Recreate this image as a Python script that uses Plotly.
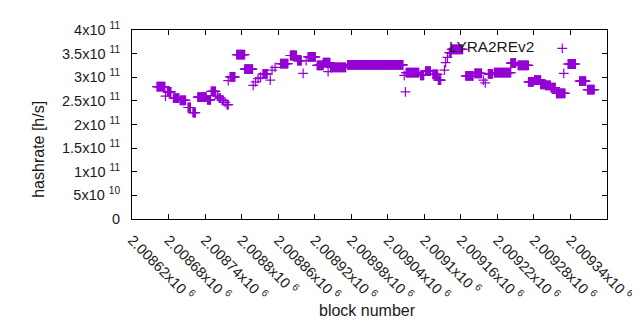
import plotly.graph_objects as go

# runs of constant hashrate: first block, last block, hashrate [h/s]
run_start = [2008661, 2008675, 2008678, 2008688, 2008699, 2008712, 2008720, 2008728, 2008744, 2008750,
             2008760, 2008763, 2008768, 2008773, 2008776, 2008778, 2008781, 2008792, 2008805, 2008819,
             2008823, 2008827, 2008831, 2008835, 2008847, 2008850, 2008855, 2008864, 2008880, 2008892,
             2008901, 2008906, 2008909, 2008924, 2008934, 2008942, 2008946, 2008974, 2009067, 2009069,
             2009070, 2009094, 2009102, 2009114, 2009123, 2009133, 2009135, 2009138, 2009141, 2009145,
             2009168, 2009183, 2009197, 2009200, 2009205, 2009215, 2009242, 2009254, 2009271, 2009281,
             2009291, 2009299, 2009308, 2009317, 2009329, 2009336, 2009355, 2009368]
run_end = [2008674, 2008675, 2008684, 2008697, 2008708, 2008716, 2008724, 2008742, 2008749, 2008757,
           2008761, 2008765, 2008770, 2008773, 2008778, 2008778, 2008789, 2008805, 2008818, 2008819,
           2008823, 2008827, 2008831, 2008842, 2008847, 2008850, 2008855, 2008876, 2008890, 2008898,
           2008901, 2008906, 2008921, 2008934, 2008945, 2008942, 2008971, 2009065, 2009067, 2009069,
           2009091, 2009099, 2009110, 2009122, 2009127, 2009133, 2009135, 2009138, 2009144, 2009163,
           2009180, 2009194, 2009197, 2009200, 2009212, 2009242, 2009250, 2009271, 2009279, 2009291,
           2009299, 2009307, 2009315, 2009331, 2009329, 2009348, 2009365, 2009379]
run_value = [2.80e11, 2.60e11, 2.69e11, 2.56e11, 2.51e11, 2.36e11, 2.25e11, 2.58e11, 2.52e11, 2.70e11,
             2.60e11, 2.56e11, 2.51e11, 2.47e11, 2.42e11, 2.93e11, 3.01e11, 3.48e11, 3.17e11, 2.83e11,
             2.90e11, 2.97e11, 3.00e11, 3.07e11, 2.94e11, 3.15e11, 3.21e11, 3.29e11, 3.46e11, 3.35e11,
             3.08e11, 3.35e11, 3.43e11, 3.25e11, 3.31e11, 3.12e11, 3.21e11, 3.26e11, 3.04e11, 2.69e11,
             3.10e11, 3.04e11, 3.13e11, 3.06e11, 2.94e11, 3.15e11, 3.31e11, 3.42e11, 3.52e11, 3.59e11,
             3.03e11, 3.08e11, 2.94e11, 2.88e11, 3.07e11, 3.10e11, 3.30e11, 3.25e11, 2.90e11, 2.94e11,
             2.85e11, 2.83e11, 2.78e11, 2.66e11, 3.08e11, 3.28e11, 2.92e11, 2.74e11]

x_tick_vals = [2008620 + 60 * i for i in range(14)]
x_tick_text = ["2.00862", "2.00868", "2.00874", "2.0088", "2.00886", "2.00892", "2.00898",
               "2.00904", "2.0091", "2.00916", "2.00922", "2.00928", "2.00934", "2.0094"]
y_tick_vals = [0, 0.5e11, 1e11, 1.5e11, 2e11, 2.5e11, 3e11, 3.5e11, 4e11]
y_tick_text = ["0", "5x10 <sup>10</sup>", "1x10 <sup>11</sup>", "1.5x10 <sup>11</sup>", "2x10 <sup>11</sup>",
               "2.5x10 <sup>11</sup>", "3x10 <sup>11</sup>", "3.5x10 <sup>11</sup>", "4x10 <sup>11</sup>"]

blocks, rates = [], []
for s, e, v in zip(run_start, run_end, run_value):
    for b in range(s, e + 1):
        blocks.append(b)
        rates.append(v)

FONT = "Liberation Sans, Arial, sans-serif"
TXT = "#1a1a1a"

fig = go.Figure()
fig.add_trace(go.Scatter(
    x=blocks, y=rates, mode="markers", name="",
    marker=dict(symbol="cross-thin", size=7, color="#9400D3",
                line=dict(color="#9400D3", width=1.2)),
    showlegend=True,
))

axis_common = dict(showgrid=False, zeroline=False, showline=True, linecolor="black", linewidth=1,
                   mirror="ticks", ticks="inside", ticklen=5, tickcolor="black", tickwidth=1)

fig.update_layout(
    width=640, height=330,
    margin=dict(l=124, r=31, t=19, b=119),
    paper_bgcolor="white", plot_bgcolor="white",
    font=dict(family=FONT, color=TXT, size=14.5),
    xaxis=dict(range=[2008620, 2009400], tickvals=x_tick_vals,
               ticktext=[t + "x10 <sup>6</sup>" for t in x_tick_text],
               tickangle=45, ticklabelstandoff=6, **axis_common),
    yaxis=dict(range=[0, 4e11], tickvals=y_tick_vals, ticktext=y_tick_text,
               ticklabelstandoff=8, **axis_common),
    legend=dict(x=0.96, xanchor="right", y=0.99, yanchor="top", bgcolor="rgba(0,0,0,0)",
                title=dict(text="LYRA2REv2", side="left", font=dict(size=15.4, family=FONT, color=TXT)),
                font=dict(size=15.4)),
    annotations=[
        dict(text="block number", x=0.4948, y=-0.5417, xref="paper", yref="paper",
             showarrow=False, font=dict(size=16, family=FONT, color=TXT)),
        dict(text="hashrate [h/s]", x=-0.2206, y=0.37, xref="paper", yref="paper",
             showarrow=False, textangle=-90, font=dict(size=16, family=FONT, color=TXT)),
    ],
)

fig.write_html("out.html")
